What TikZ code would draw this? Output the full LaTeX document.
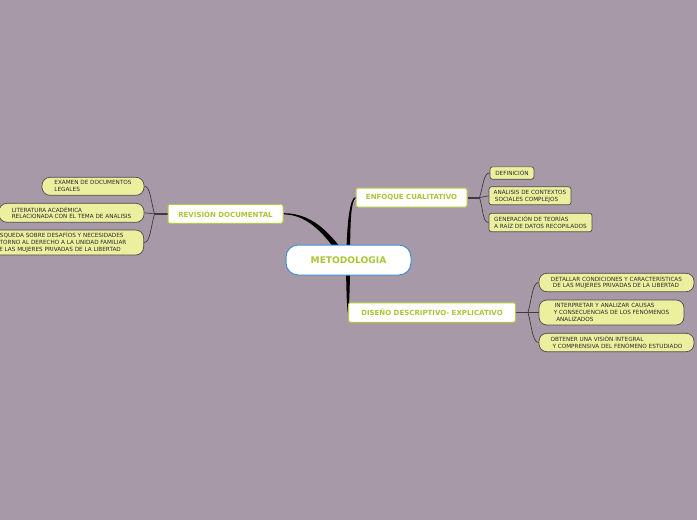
\documentclass[tikz,border=0pt]{standalone}
\usepackage{fontspec}
\setmainfont{DejaVu Sans}
\usetikzlibrary{calc}
\definecolor{bgc}{HTML}{A899A8}
\definecolor{centralborder}{HTML}{3F8FD6}
\definecolor{textgreen}{HTML}{A9C637}
\definecolor{branchborder}{HTML}{B2CC3E}
\definecolor{leaffill}{HTML}{EBEF9E}
\definecolor{leafborder}{HTML}{4E4A4E}
\definecolor{leaftext}{HTML}{2A2A2A}
\definecolor{twigc}{HTML}{3E3A3E}
\pgfdeclarelayer{bg}
\pgfdeclarelayer{edges}
\pgfsetlayers{bg,edges,main}
\begin{document}
\begin{tikzpicture}[x=1pt,y=-1pt,
  central/.style={draw=centralborder, fill=white, line width=1pt, rounded corners=12pt,
    font=\bfseries\fontsize{9.1}{10}\selectfont, text=textgreen, inner sep=0pt},
  branch/.style={draw=branchborder, fill=white, line width=1pt, rounded corners=2pt,
    font=\bfseries\fontsize{7}{8}\selectfont, text=textgreen, inner sep=0pt},
  leaf/.style={draw=leafborder, fill=leaffill, line width=0.7pt, rounded corners=8pt,
    align=left, font=\fontsize{5.7}{6.8}\selectfont, text=leaftext, inner sep=0pt},
  leafsq/.style={leaf, rounded corners=2.5pt},
  trunk/.style={fill=black},
  stub/.style={draw=twigc, line width=1.8pt},
  twig/.style={draw=twigc, line width=0.7pt}]
\begin{pgfonlayer}{bg}
  \fill[bgc] (0,0) rectangle (697,520);
\end{pgfonlayer}
\useasboundingbox (0,0) rectangle (697,520);

% central and branches
\node[central, minimum width=125, minimum height=30] (c) at (348.5,260) {METODOLOGIA};
\node[branch, minimum width=115, minimum height=19] (rev) at (225.5,213.8) {REVISIÓN DOCUMENTAL};
\node[branch, minimum width=111, minimum height=19] (enf) at (411.5,197.6) {ENFOQUE CUALITATIVO};
\node[branch, minimum width=167, minimum height=19.5] (dis) at (432,312.5) {DISEÑO DESCRIPTIVO- EXPLICATIVO};

% leaves of ENFOQUE
\node[leafsq, minimum width=44, minimum height=12.3] (l1) at (512,173) {DEFINICIÓN};
\node[leafsq, minimum width=82, minimum height=18] (l2) at (530,195.8) {ANÁLISIS DE CONTEXTOS\\\hspace{1.3pt}SOCIALES COMPLEJOS};
\node[leafsq, minimum width=103, minimum height=18.5] (l3) at (540.5,222.5) {GENERACIÓN DE TEORÍAS\\A RAÍZ DE DATOS RECOPILADOS};

% leaves of DISEÑO
\node[leaf, minimum width=155, minimum height=18.5] (r1) at (616.5,282.5) {DETALLAR CONDICIONES Y CARACTERÍSTICAS\\\hspace{2pt}DE LAS MUJERES PRIVADAS DE LA LIBERTAD};
\node[leaf, minimum width=145, minimum height=25] (r2) at (611.5,312.5) {\hspace{1pt}INTERPRETAR Y ANALIZAR CAUSAS\\Y CONSECUENCIAS DE LOS FENÓMENOS\\\hspace{2.5pt}ANALIZADOS};
\node[leaf, minimum width=155, minimum height=18.5] (r3) at (616.5,342.5) {OBTENER UNA VISIÓN INTEGRAL\\\hspace{2pt}Y COMPRENSIVA DEL FENÓMENO ESTUDIADO};

% leaves of REVISIÓN
\node[leaf, minimum width=102, minimum height=18] (e1) at (93,186.3) {EXAMEN DE DOCUMENTOS\\LEGALES};
\node[leaf, minimum width=145, minimum height=19] (e2) at (71.5,212.8) {LITERATURA ACADÉMICA\\RELACIONADA CON EL TEMA DE ANALISIS};
\node[leaf, anchor=east, minimum width=169, minimum height=25] (e3) at (144,242.5) {BÚSQUEDA SOBRE DESAFÍOS Y NECESIDADES\\ENTORNO AL DERECHO A LA UNIDAD FAMILIAR\\\hspace{3pt}DE LAS MUJERES PRIVADAS DE LA LIBERTAD};

\begin{pgfonlayer}{edges}
  % tapered trunks from the centre
  \fill[trunk] ($(rev.east)+(0,-0.6)$) .. controls +(22,0) and +(-22,-33) .. ($(c.center)+(-1.5,-3)$)
    -- ($(c.center)+(-7,-1)$) .. controls +(-20,-31) and +(20,0) .. ($(rev.east)+(0,0.6)$) -- cycle;
  \fill[trunk] ($(c.center)+(-2,-8)$) .. controls +(0.5,-27) and +(-6,1) .. ($(enf.west)+(0,-0.6)$)
    -- ($(enf.west)+(0,0.6)$) .. controls +(-5,4) and +(0.5,-27) .. ($(c.center)+(1.5,-8)$) -- cycle;
  \fill[trunk] ($(c.center)+(-2.5,5)$) .. controls +(0.3,25) and +(-1,-7.5) .. ($(dis.west)+(-0.2,0)$)
    -- ($(dis.west)+(0.8,0)$) .. controls +(0.2,-12) and +(0,25) .. ($(c.center)+(1.5,5)$) -- cycle;

  % ENFOQUE leaves
  \draw[stub] (enf.east) -- ++(12,0) coordinate (h1);
  \draw[twig] (h1) .. controls +(4,-13) and +(-6,0) .. (l1.west);
  \draw[twig] (h1) .. controls +(5,0) and +(-5,0) .. (l2.west);
  \draw[twig] (h1) .. controls +(4,13) and +(-6,0) .. (l3.west);

  % DISEÑO leaves
  \draw[stub] (dis.east) -- ++(12,0) coordinate (h3);
  \draw[twig] (h3) .. controls +(4,-15) and +(-6,0) .. (r1.west);
  \draw[twig] (h3) .. controls +(5,0) and +(-5,0) .. (r2.west);
  \draw[twig] (h3) .. controls +(4,15) and +(-6,0) .. (r3.west);

  % REVISIÓN leaves
  \draw[stub] (rev.west) -- ++(-13,0) coordinate (h2);
  \draw[twig] (h2) .. controls +(-4,-14) and +(6,0) .. (e1.east);
  \draw[twig] (h2) .. controls +(-5,0) and +(5,0) .. (e2.east);
  \draw[twig] (h2) .. controls +(-4,15) and +(6,0) .. (e3.east);
\end{pgfonlayer}
\end{tikzpicture}
\end{document}
